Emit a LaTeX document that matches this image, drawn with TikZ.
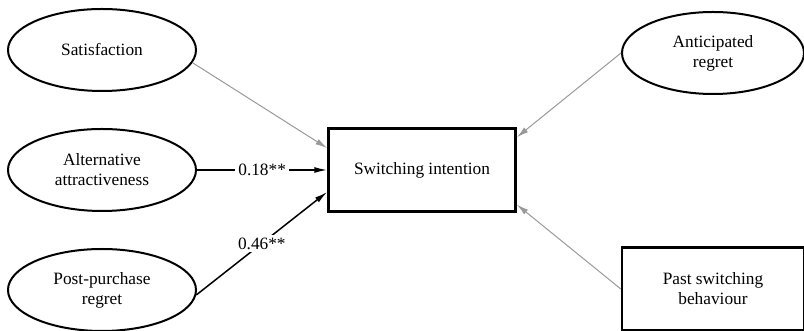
\documentclass[tikz,border=0pt]{standalone}
\usepackage{fontspec}
\setmainfont{Liberation Serif}
\usetikzlibrary{positioning, shapes.geometric, arrows.meta}

\tikzstyle{block} = [rectangle, draw, line width=1.2pt, text centered, minimum width=93.5pt, minimum height=41.5pt, align=center]
\tikzstyle{oval} = [ellipse, draw, line width=1pt, text centered, minimum width=94pt, minimum height=41pt, inner sep=0pt, align=center]
\tikzstyle{arrow} = [draw, line width=0.75pt, -{Latex[length=6.5pt, width=3pt]}]
\tikzstyle{greyarrow} = [draw, black!40, line width=0.5pt, -{Latex[length=6pt, width=3pt]}]
\tikzstyle{weight} = [fill=white, text=black, inner sep=1.5pt, auto=false]

\begin{document}
\begin{tikzpicture}[node distance=1cm, auto, font=\fontsize{8.65}{10}\selectfont]
    \useasboundingbox (-211pt,-80.5pt) rectangle (191pt,85pt);

    \node[block] (intention) {Switching intention};

    \node[oval, node distance=160pt, left of=intention] (alternative) {Alternative\\attractiveness};
    \node[oval, node distance=60pt, above of=alternative] (satisfaction) {Satisfaction};
    \node[oval, node distance=60pt, below of=alternative] (postpurchase) {Post-purchase\\regret};

    \node[oval, node distance=145.5pt, right of=intention, yshift=58.5pt, minimum width=91pt] (anticipated) {Anticipated\\regret};
    \node[block, node distance=145.5pt, right of=intention, yshift=-59.5pt, minimum width=91pt] (past) {Past switching\\behaviour};

    % lines
    \draw [greyarrow] (satisfaction.-8) to (intention.167);
    \draw [arrow] (alternative.east) to node[weight] {0.18**} (intention.west);
    \draw [arrow] (postpurchase.-3) to node[weight] {0.46**} (intention.193);
    \draw [greyarrow] (anticipated.west) to (intention.19);
    \draw [greyarrow] (past.west) to (intention.-20);
\end{tikzpicture}
\end{document}
